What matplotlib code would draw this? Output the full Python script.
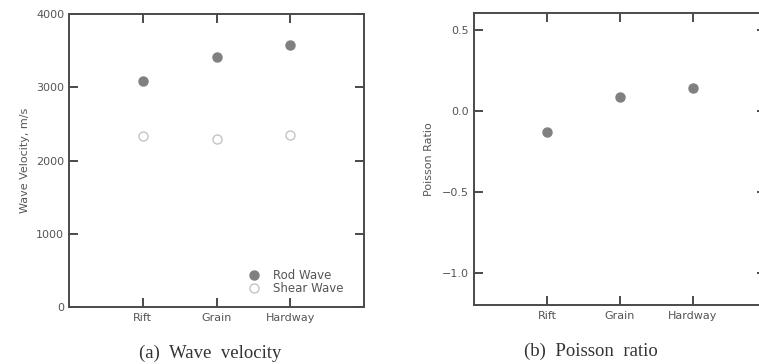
import matplotlib
matplotlib.use("Agg")
import matplotlib.pyplot as plt

categories = ["Rift", "Grain", "Hardway"]
rod_wave = [3090, 3410, 3575]
shear_wave = [2330, 2300, 2350]
poisson = [-0.13, 0.087, 0.142]

plt.rcParams['font.family'] = ['DejaVu Sans']

spine_col = "#4a4a4a"
text_col = "#555555"

fig = plt.figure(figsize=(7.59, 3.64), dpi=100)
ax1 = fig.add_axes([0.0909, 0.1566, 0.3887, 0.8049])
ax2 = fig.add_axes([0.6245, 0.1613, 0.3847, 0.802])

x = [1, 2, 3]

def style(ax):
    for s in ax.spines.values():
        s.set_color(spine_col)
        s.set_linewidth(1.4)
    ax.tick_params(direction="in", length=6.5, width=1.4, color=spine_col,
                   labelcolor=text_col, labelsize=8, top=True, right=True)
    ax.tick_params(axis="y", pad=3.5)
    ax.tick_params(axis="x", pad=4)
    ax.set_xlim(0, 4)
    ax.set_xticks(x)
    ax.set_xticklabels(categories)

# (a) wave velocity
ax1.plot(x, rod_wave, "o", color="#808080", ms=6.5, mec="#808080", label="Rod Wave")
ax1.plot(x, shear_wave, "o", mfc="white", mec="#c4c4c4", mew=1.0, ms=6.5, label="Shear Wave")
style(ax1)
ax1.set_ylim(0, 4000)
ax1.set_yticks([0, 1000, 2000, 3000, 4000])
ax1.set_ylabel("Wave Velocity, m/s", fontsize=8, color=text_col, labelpad=4)
ax1.legend(loc="lower right", frameon=False, fontsize=8.5, handletextpad=0.6,
           labelspacing=0.0, borderaxespad=0.6, labelcolor=text_col,
           bbox_to_anchor=(0.97, 0.0))

# (b) Poisson ratio
ax2.plot(x, poisson, "o", color="#808080", ms=6.5)
style(ax2)
ax2.set_ylim(-1.2, 0.6)
ax2.set_yticks([-1.0, -0.5, 0.0, 0.5])
ax2.set_yticklabels(["\u22121.0", "\u22120.5", "0.0", "0.5"])
ax2.set_ylabel("Poisson Ratio", fontsize=8, color=text_col, labelpad=6)

fig.text(0.277, 0.03, "(a)  Wave  velocity", ha="center", va="center",
         family="Liberation Serif", fontsize=13.5, color="#333333")
fig.text(0.779, 0.036, "(b)  Poisson  ratio", ha="center", va="center",
         family="Liberation Serif", fontsize=13.5, color="#333333")

fig.savefig("out.png", dpi=100)
